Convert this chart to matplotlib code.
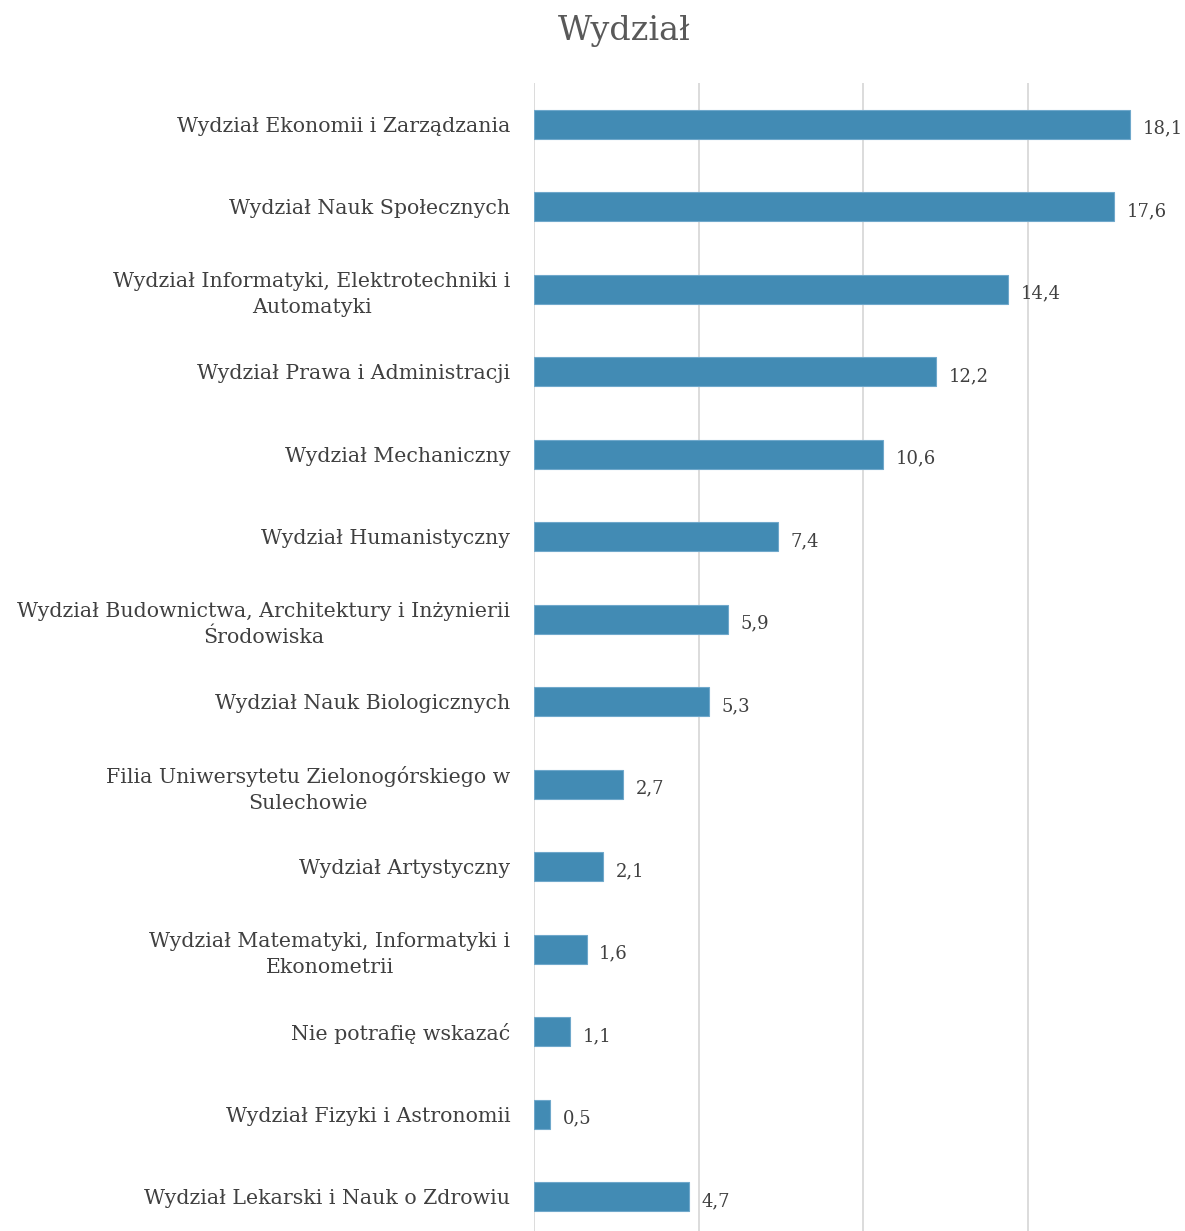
import matplotlib.pyplot as plt

categories = [
    "Wydział Ekonomii i Zarządzania",
    "Wydział Nauk Społecznych",
    "Wydział Informatyki, Elektrotechniki i\nAutomatyki",
    "Wydział Prawa i Administracji",
    "Wydział Mechaniczny",
    "Wydział Humanistyczny",
    "Wydział Budownictwa, Architektury i Inżynierii\nŚrodowiska",
    "Wydział Nauk Biologicznych",
    "Filia Uniwersytetu Zielonogórskiego w\nSulechowie",
    "Wydział Artystyczny",
    "Wydział Matematyki, Informatyki i\nEkonometrii",
    "Nie potrafię wskazać",
    "Wydział Fizyki i Astronomii",
    "Wydział Lekarski i Nauk o Zdrowiu",
]
values = [18.1, 17.6, 14.4, 12.2, 10.6, 7.4, 5.9, 5.3, 2.7, 2.1, 1.6, 1.1, 0.5, 4.7]
value_labels = ["18,1", "17,6", "14,4", "12,2", "10,6", "7,4", "5,9", "5,3",
                "2,7", "2,1", "1,6", "1,1", "0,5", "4,7"]

plt.rcParams['font.family'] = ['DejaVu Serif']
text_color = '#404040'

fig = plt.figure(figsize=(11.85, 12.31), dpi=100)
ax = fig.add_axes([534 / 1185, 1 - 1238 / 1231, (1160 - 534) / 1185, (1238 - 83) / 1231])

ypos = list(range(len(categories)))
ax.barh(ypos, values, height=0.35, color='#428BB4', edgecolor='#6FA8CB', linewidth=0.8, zorder=3)
ax.set_ylim(len(categories) - 0.5, -0.5)
ax.set_xlim(0, 19)
ax.set_xticks([0, 5, 10, 15])
ax.xaxis.grid(True, color='#d9d9d9', linewidth=1.3, zorder=0)
ax.tick_params(axis='x', bottom=False, labelbottom=False)
ax.tick_params(axis='y', left=False, pad=13.5)
ax.set_yticks(ypos)
ax.set_yticklabels(categories, fontsize=14.8, color=text_color, multialignment='center',
                   linespacing=1.45)
for s in ax.spines.values():
    s.set_visible(False)

for y, v, lab in zip(ypos, values, value_labels):
    ax.annotate(lab, (v, y), xytext=(9, -3), textcoords='offset points',
                ha='left', va='center', fontsize=13, color=text_color)

fig.text(624 / 1185, 1 - 31 / 1231, "Wydział", ha='center', va='center',
         fontsize=24, color='#595959')

fig.savefig('out.png', dpi=100)
